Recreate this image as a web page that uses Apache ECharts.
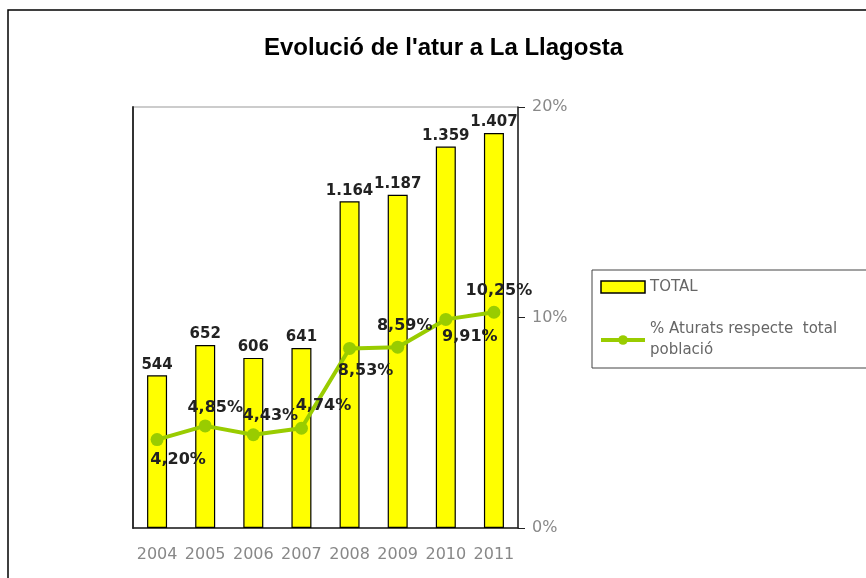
<!DOCTYPE html>
<html>
<head>
<meta charset="utf-8">
<script src="https://cdn.jsdelivr.net/npm/echarts@6/dist/echarts.min.js"></script>
<style>
  html, body { margin: 0; padding: 0; background: #fff; }
  #chart { width: 866px; height: 578px; }
</style>
</head>
<body>
<div id="chart"></div>
<script>
// dades
var years = ['2004', '2005', '2006', '2007', '2008', '2009', '2010', '2011']
var total = [544, 652, 606, 641, 1164, 1187, 1359, 1407]
var percent = [4.20, 4.85, 4.43, 4.74, 8.53, 8.59, 9.91, 10.25]
var pctTicks = [0, 10, 20]

// on va cada etiqueta de la línia (estil)
var lineLabelPos = [
  { position: 'bottom', offset: [21, 0] },
  { position: 'top', offset: [10, 2] },
  { position: 'top', offset: [17, 2] },
  { position: 'top', offset: [22, -2] },
  { position: 'bottom', offset: [16, 2] },
  { position: 'top', offset: [7, -1] },
  { position: 'bottom', offset: [24, -3] },
  { position: 'top', offset: [5, -1] }
]

function milers (v) {
  return String(v).replace(/\B(?=(\d{3})+(?!\d))/g, '.')
}

var labelFont = {
  fontFamily: 'DejaVu Sans',
  fontWeight: 'bold',
  color: '#222'
}

var myChart = echarts.init(document.getElementById('chart'))

var option = {
  animation: false,
  backgroundColor: '#fff',
  title: {
    text: "Evolució de l'atur a La Llagosta",
    left: 259,
    top: 31,
    textStyle: {
      fontFamily: 'Liberation Sans',
      fontWeight: 'bold',
      fontSize: 24,
      color: '#000'
    }
  },
  graphic: [{
    type: 'rect',
    shape: { x: 8, y: 10, width: 900, height: 600 },
    style: { fill: 'none', stroke: '#000', lineWidth: 1.5 },
    silent: true,
    z: -1
  }],
  legend: {
    orient: 'vertical',
    left: 592,
    top: 270,
    padding: [8, 120, 10, 7],
    itemGap: 26,
    itemWidth: 44,
    itemHeight: 12,
    borderColor: '#444',
    borderWidth: 1,
    textStyle: {
      fontFamily: 'DejaVu Sans',
      fontSize: 15,
      color: '#666',
      height: 18,
      lineHeight: 21,
      verticalAlign: 'top'
    },
    data: [
      { name: 'TOTAL', icon: 'rect', itemStyle: { color: '#ffff00', borderColor: '#000', borderWidth: 1.5 } },
      { name: '% Aturats respecte  total\npoblació', lineStyle: { width: 4 } }
    ]
  },
  grid: {
    left: 133,
    right: 348,
    top: 107,
    bottom: 50,
    show: true,
    borderColor: '#999',
    borderWidth: 1
  },
  xAxis: {
    type: 'category',
    data: years,
    boundaryGap: true,
    axisLine: { lineStyle: { color: '#222', width: 1.5 } },
    axisTick: { length: 7, lineStyle: { color: '#222' } },
    axisLabel: {
      interval: 0,
      hideOverlap: false,
      margin: 19,
      fontFamily: 'DejaVu Sans',
      fontSize: 16,
      color: '#888'
    }
  },
  yAxis: [{
    type: 'value',
    min: 0,
    max: 1500,
    position: 'left',
    axisLine: { show: true, lineStyle: { color: '#333', width: 2 } },
    axisTick: { show: false },
    axisLabel: { show: false },
    splitLine: { show: false }
  }, {
    type: 'value',
    min: pctTicks[0],
    max: pctTicks[pctTicks.length - 1],
    interval: 10,
    position: 'right',
    axisLine: { show: true, lineStyle: { color: '#222', width: 1.5 } },
    axisTick: { show: true, length: 7, lineStyle: { color: '#222' } },
    axisLabel: {
      margin: 14,
      fontFamily: 'DejaVu Sans',
      fontSize: 16,
      color: '#888',
      formatter: function (v) { return v + '%' }
    },
    splitLine: { show: false }
  }],
  series: [{
    name: 'TOTAL',
    type: 'bar',
    yAxisIndex: 0,
    barWidth: 20,
    data: total,
    itemStyle: { color: '#ffff00', borderColor: '#000', borderWidth: 1.2 },
    label: Object.assign({
      show: true,
      position: 'top',
      distance: 3,
      fontSize: 15,
      formatter: function (p) { return milers(p.value) }
    }, labelFont)
  }, {
    name: '% Aturats respecte  total\npoblació',
    type: 'line',
    yAxisIndex: 1,
    symbol: 'circle',
    symbolSize: 13,
    z: 5,
    lineStyle: { color: '#99cc00', width: 4 },
    itemStyle: { color: '#99cc00' },
    data: percent.map(function (v, i) {
      return {
        value: v,
        label: lineLabelPos[i]
      }
    }),
    label: Object.assign({
      show: true,
      distance: 6,
      fontSize: 16,
      formatter: function (p) { return p.value.toFixed(2).replace('.', ',') + '%' }
    }, labelFont)
  }]
}

myChart.setOption(option)
</script>
</body>
</html>
